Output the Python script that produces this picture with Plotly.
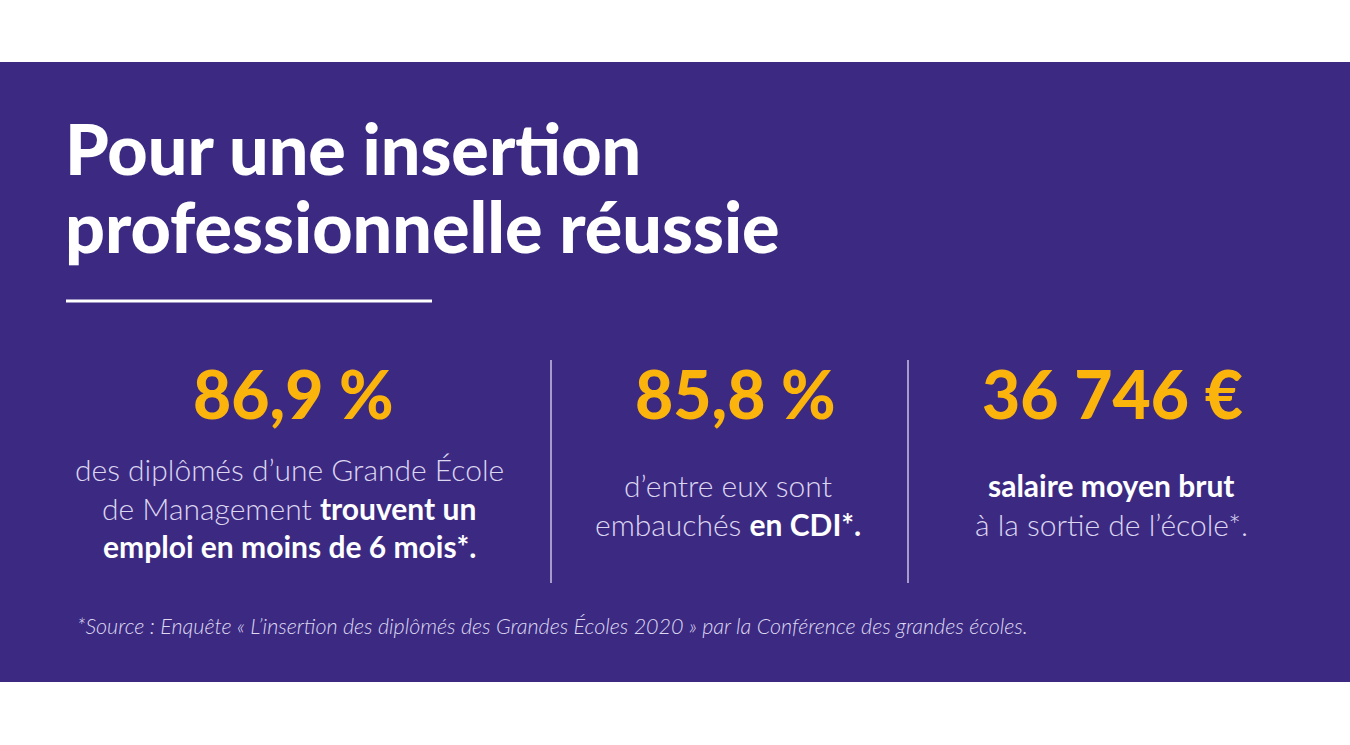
import plotly.graph_objects as go

W, H = 1350, 745
PURPLE = "#3C2A82"
YELLOW = "#FBB40C"
LIGHT = "#DCD6F0"
WHITE = "#FFFFFF"

B0 = "<span style='font-family:Lato;font-weight:bold;color:#FFFFFF'>"
B1 = "</span>"

title_lines = ["Pour une insertion", "professionnelle réussie"]
stat_values = ["86,9 %", "85,8 %", "36 746 €"]
stat_desc = [
    ["des diplômés d’une Grande École",
     "de Management " + B0 + "trouvent un" + B1,
     B0 + "emploi en moins de 6 mois*." + B1],
    ["d’entre eux sont",
     "embauchés " + B0 + "en CDI*." + B1],
    [B0 + "salaire moyen brut" + B1,
     "à la sortie de l’école*."],
]
source_text = "*Source : Enquête « L’insertion des diplômés des Grandes Écoles 2020 » par la Conférence des grandes écoles."

num_x = [293, 735, 1112]
col_x = [289, 728, 1111]
desc_y = [[469, 508, 546], [485, 524], [485, 524]]

fig = go.Figure()
fig.add_trace(go.Scatter(x=[0, W], y=[0, H], mode="markers", marker=dict(opacity=0),
                         hoverinfo="skip", showlegend=False))

shapes = [
    dict(type="rect", x0=0, x1=W, y0=62, y1=682, fillcolor=PURPLE, line=dict(width=0), layer="below"),
    dict(type="line", x0=66, x1=432, y0=301, y1=301, line=dict(color=WHITE, width=3)),
    dict(type="line", x0=551, x1=551, y0=360, y1=583, line=dict(color="#C9C2E6", width=1.5)),
    dict(type="line", x0=908, x1=908, y0=360, y1=583, line=dict(color="#C9C2E6", width=1.5)),
]

ann = []
for i, t in enumerate(title_lines):
    ann.append(dict(x=63, y=[148, 226][i], text=t, showarrow=False, xanchor="left", yanchor="middle",
                    font=dict(family="Lato", size=70, color=WHITE, weight=900)))
for i, v in enumerate(stat_values):
    ann.append(dict(x=num_x[i], y=393, text=v, showarrow=False, xanchor="center", yanchor="middle",
                    font=dict(family="Lato", size=66, color=YELLOW, weight=900)))
    for j, line in enumerate(stat_desc[i]):
        ann.append(dict(x=col_x[i], y=desc_y[i][j], text=line, showarrow=False,
                        xanchor="center", yanchor="middle",
                        font=dict(family="Lato Light, Lato", size=30, color=LIGHT)))
ann.append(dict(x=75, y=626, text="<i>" + source_text + "</i>", showarrow=False, xanchor="left", yanchor="middle",
                font=dict(family="Lato Light, Lato", size=21.5, color="#DDD8F0")))

fig.update_layout(
    width=W, height=H, margin=dict(l=0, r=0, t=0, b=0),
    paper_bgcolor="white", plot_bgcolor="white",
    xaxis=dict(range=[0, W], visible=False, fixedrange=True),
    yaxis=dict(range=[H, 0], visible=False, fixedrange=True),
    shapes=shapes, annotations=ann, showlegend=False,
)
fig.write_html("out.html", config={"displayModeBar": False},
               post_script="document.body.style.margin='0';document.body.style.overflow='hidden';")
